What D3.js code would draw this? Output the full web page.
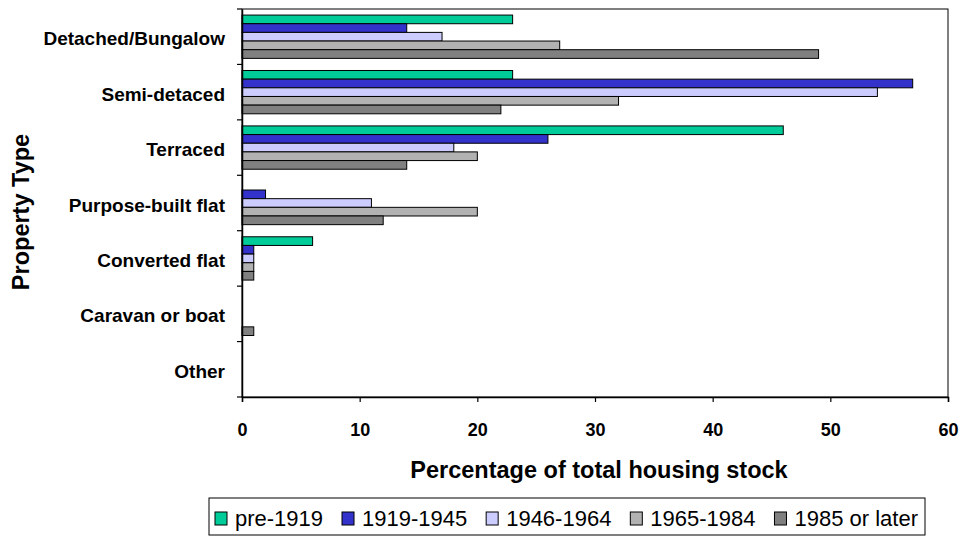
<!DOCTYPE html>
<html>
<head>
<meta charset="utf-8">
<script src="https://cdn.jsdelivr.net/npm/d3@7"></script>
<style>
  html, body { margin: 0; padding: 0; background: #fff; }
  svg { display: block; font-family: "Liberation Sans", Arial, sans-serif; }
</style>
</head>
<body>
<svg id="chart" width="961" height="537"></svg>
<script>
const categories = ["Detached/Bungalow", "Semi-detaced", "Terraced", "Purpose-built flat", "Converted flat", "Caravan or boat", "Other"];
const seriesNames = ["pre-1919", "1919-1945", "1946-1964", "1965-1984", "1985 or later"];
const pre1919   = [23, 23, 46, 0, 6, 0, 0];
const y1919_1945 = [14, 57, 26, 2, 1, 0, 0];
const y1946_1964 = [17, 54, 18, 11, 1, 0, 0];
const y1965_1984 = [27, 32, 20, 20, 1, 0, 0];
const y1985_later = [49, 22, 14, 12, 1, 1, 0];
const xTicks = [0, 10, 20, 30, 40, 50, 60];
const seriesColors = ["#00CC99", "#3333CC", "#CCCCFF", "#B2B2B2", "#808080"];
const xTitle = "Percentage of total housing stock";
const yTitle = "Property Type";

const seriesValues = [pre1919, y1919_1945, y1946_1964, y1965_1984, y1985_later];

const svg = d3.select("#chart");
const plot = { left: 242, right: 948, top: 9, bottom: 397 };

const x = d3.scaleLinear().domain([0, 60]).range([plot.left, plot.right]);
const y0 = d3.scaleBand().domain(categories).range([plot.top, plot.bottom]).padding(0);
const y1 = d3.scaleBand().domain(seriesNames).range([0, y0.bandwidth()]).paddingInner(0).paddingOuter(0.7);

// plot frame
svg.append("rect")
  .attr("x", plot.left).attr("y", plot.top)
  .attr("width", plot.right - plot.left).attr("height", plot.bottom - plot.top)
  .attr("fill", "#fff").attr("stroke", "#000").attr("stroke-width", 1);

// bars
const rows = [];
categories.forEach((c, ci) => {
  seriesNames.forEach((s, si) => {
    const v = seriesValues[si][ci];
    if (v > 0) rows.push({ c, s, si, v });
  });
});
svg.append("g").selectAll("rect").data(rows).join("rect")
  .attr("x", x(0))
  .attr("y", d => y0(d.c) + y1(d.s))
  .attr("width", d => x(d.v) - x(0))
  .attr("height", y1.bandwidth())
  .attr("fill", d => seriesColors[d.si])
  .attr("stroke", "#000")
  .attr("stroke-width", 1);

// x axis
const xAxis = d3.axisBottom(x).tickValues(xTicks).tickSize(5).tickPadding(21).tickFormat(d3.format("d"));
const gx = svg.append("g").attr("transform", `translate(0,${plot.bottom})`).call(xAxis);
gx.select(".domain").attr("stroke", "#000").attr("stroke-width", 1.5);
gx.selectAll(".tick line").attr("stroke", "#000").attr("stroke-width", 1.2);
gx.selectAll(".tick text")
  .attr("fill", "#000").style("font-size", "18px").style("font-weight", "bold")
  .style("font-family", "'Liberation Sans', Arial, sans-serif");

// y axis (labels at band centres, ticks at band boundaries)
const yAxis = d3.axisLeft(y0).tickSize(0).tickPadding(17);
const gy = svg.append("g").attr("transform", `translate(${plot.left},0)`).call(yAxis);
gy.select(".domain").attr("stroke", "#000").attr("stroke-width", 1.5);
gy.selectAll(".tick text")
  .attr("fill", "#000").attr("dy", "0.45em")
  .style("font-size", "19px").style("font-weight", "bold")
  .style("font-family", "'Liberation Sans', Arial, sans-serif");
const boundaries = categories.map(c => y0(c)).concat([y0(categories[categories.length - 1]) + y0.bandwidth()]);
svg.append("g").selectAll("line").data(boundaries).join("line")
  .attr("x1", plot.left - 5).attr("x2", plot.left)
  .attr("y1", d => d).attr("y2", d => d)
  .attr("stroke", "#000").attr("stroke-width", 1.2);

// axis titles
svg.append("text")
  .attr("x", 599).attr("y", 478)
  .attr("text-anchor", "middle")
  .style("font-size", "23.5px").style("font-weight", "bold")
  .text(xTitle);

svg.append("text")
  .attr("transform", "translate(29,212) rotate(-90)")
  .attr("text-anchor", "middle")
  .style("font-size", "23.5px").style("font-weight", "bold")
  .text(yTitle);

// legend
const legend = svg.append("g");
const box = { left: 209, right: 925, top: 498, bottom: 535 };
const legBox = legend.append("rect")
  .attr("x", box.left).attr("y", box.top)
  .attr("width", box.right - box.left).attr("height", box.bottom - box.top)
  .attr("fill", "#fff").attr("stroke", "#000").attr("stroke-width", 1);
const startX = 215, endX = 918, swatchGap = 20;
const groups = seriesNames.map((s, i) => {
  const g = legend.append("g");
  g.append("rect")
    .attr("y", 512).attr("width", 12).attr("height", 13)
    .attr("fill", seriesColors[i]).attr("stroke", "#000").attr("stroke-width", 1);
  const t = g.append("text").attr("y", 526).style("font-size", "22px").text(s);
  return { g, w: swatchGap + t.node().getComputedTextLength() };
});
const total = d3.sum(groups, d => d.w);
const gap = (endX - startX - total) / (groups.length - 1);
let lx = startX;
groups.forEach(d => {
  d.g.select("rect").attr("x", lx);
  d.g.select("text").attr("x", lx + swatchGap);
  lx += d.w + gap;
});
</script>
</body>
</html>
